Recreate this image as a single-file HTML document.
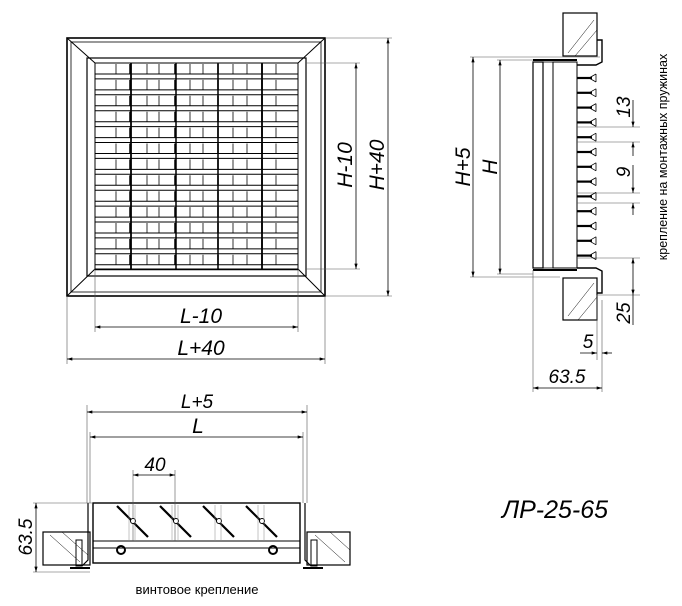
<!DOCTYPE html>
<html><head><meta charset="utf-8"><style>
html,body{margin:0;padding:0;background:#fff;}
svg{display:block}
text{font-family:"Liberation Sans","DejaVu Sans",sans-serif;font-style:italic;fill:#000}
text.n{font-style:normal}
</style></head><body>
<svg id="s" width="682" height="606" viewBox="0 0 682 606" xmlns="http://www.w3.org/2000/svg" stroke="#000" fill="none" stroke-width="1">
<defs>
<marker id="a" viewBox="0 0 10 6" refX="10" refY="3" markerWidth="8" markerHeight="4" orient="auto-start-reverse"><path d="M0,0L10,3L0,6z" fill="#000" stroke="none"/></marker>
</defs>
<g id="front">
<rect x="67" y="38" width="258" height="258" stroke-width="1.6"/>
<rect x="71" y="42" width="250" height="250" stroke-width="0.8"/>
<rect x="87" y="58" width="219" height="218" stroke-width="1.2"/>
<rect x="95" y="63" width="203" height="206" stroke-width="1"/>
<path d="M67,38L95,63M325,38L298,63M67,296L95,269M325,296L298,269" stroke-width="1"/>
</g>
<g stroke-width="0.6" stroke="#555">
<path d="M306,63H360M306,269H360M325,38H392M325,296H392M95,269V332M298,269V332M67,296V364M325,296V364"/>
</g>
<g stroke-width="0.8">
<line x1="356" y1="63" x2="356" y2="269" marker-start="url(#a)" marker-end="url(#a)"/>
<line x1="388" y1="38" x2="388" y2="296" marker-start="url(#a)" marker-end="url(#a)"/>
<line x1="95" y1="327" x2="298" y2="327" marker-start="url(#a)" marker-end="url(#a)"/>
<line x1="67" y1="359" x2="325" y2="359" marker-start="url(#a)" marker-end="url(#a)"/>
</g>
<text x="0" y="0" font-size="21" transform="translate(352,165) rotate(-90)" text-anchor="middle" stroke="none">H-10</text>
<text x="0" y="0" font-size="21" transform="translate(384,165) rotate(-90)" text-anchor="middle" stroke="none">H+40</text>
<text x="201" y="323" font-size="21" text-anchor="middle" stroke="none">L-10</text>
<text x="201" y="355" font-size="21" text-anchor="middle" stroke="none">L+40</text>

<g id="side">
<rect x="563" y="13" width="34" height="43" stroke-width="1.2"/>
<rect x="563" y="278" width="34" height="42" stroke-width="1.2"/>
<path d="M568,53L594,20M575,56L597,30M568,316L594,283M578,320L597,297" stroke-width="0.5"/>
<path d="M597,40h5v22l-6,3h-19M597,293h5v-22l-6,-3h-19" stroke-width="1.4"/>
<rect x="533" y="62" width="10" height="206" stroke-width="1.2"/>
<rect x="543" y="62" width="10" height="206" stroke-width="0.8"/>
<rect x="553" y="62" width="24" height="206" stroke-width="1"/>
<path d="M533,60H577M533,270H577" stroke-width="2"/>
</g>
<g stroke-width="0.6" stroke="#555">
<path d="M470,57H600M497,60H533M470,277H560M497,274H533M577,127H640M577,142H640M577,193H640M577,203H640M577,258H640M597,295H640M597,295V360M533,270V392M602,300V392"/>
</g>
<g stroke-width="0.8">
<line x1="473" y1="57" x2="473" y2="277" marker-start="url(#a)" marker-end="url(#a)"/>
<line x1="500" y1="60" x2="500" y2="274" marker-start="url(#a)" marker-end="url(#a)"/>
<line x1="633" y1="100" x2="633" y2="127" marker-end="url(#a)"/>
<line x1="633" y1="142" x2="633" y2="156" marker-start="url(#a)"/>
<line x1="633" y1="165" x2="633" y2="193" marker-end="url(#a)"/>
<line x1="633" y1="203" x2="633" y2="215" marker-start="url(#a)"/>
<line x1="633" y1="258" x2="633" y2="295" marker-start="url(#a)" marker-end="url(#a)"/>
<line x1="633" y1="295" x2="633" y2="325"/>
<line x1="580" y1="353" x2="597" y2="353" marker-end="url(#a)"/>
<line x1="602" y1="353" x2="612" y2="353" marker-start="url(#a)"/>
<line x1="533" y1="388" x2="602" y2="388" marker-start="url(#a)" marker-end="url(#a)"/>
</g>
<text font-size="21" transform="translate(470,167) rotate(-90)" text-anchor="middle" stroke="none">H+5</text>
<text font-size="21" transform="translate(497,167) rotate(-90)" text-anchor="middle" stroke="none">H</text>
<text font-size="19" transform="translate(630,107) rotate(-90)" text-anchor="middle" stroke="none">13</text>
<text font-size="19" transform="translate(630,172) rotate(-90)" text-anchor="middle" stroke="none">9</text>
<text font-size="19" transform="translate(630,313) rotate(-90)" text-anchor="middle" stroke="none">25</text>
<text x="588" y="348" font-size="19" text-anchor="middle" stroke="none">5</text>
<text x="567" y="383" font-size="19" text-anchor="middle" stroke="none">63.5</text>
<text class="n" font-size="12.5" transform="translate(667,157) rotate(-90)" text-anchor="middle" stroke="none">крепление на монтажных пружинах</text>

<g id="bot">
<rect x="93" y="503" width="207" height="60" stroke-width="1.4"/>
<path d="M93,541H300M93,548H300" stroke-width="1"/>
<path d="M88,503V560l-6,6M305,503V560l6,6" stroke-width="1.2"/>
<rect x="43" y="532" width="47" height="33" stroke-width="1.2"/>
<rect x="307" y="532" width="43" height="33" stroke-width="1.2"/>
<path d="M50,535L80,562M62,532L88,555M315,535L345,562M330,532L350,550" stroke-width="0.5"/>
<rect x="76" y="540" width="6" height="26" stroke-width="1"/>
<rect x="311" y="540" width="6" height="26" stroke-width="1"/>
<path d="M70,568h20M303,568h20" stroke-width="2"/>
<circle cx="121" cy="550" r="4" stroke-width="2"/>
<circle cx="273" cy="550" r="4" stroke-width="2"/>
</g>
<g stroke-width="0.6" stroke="#555">
<path d="M87,405V503M307,405V503M90,432V503M303,432V503M133,470V541M175,470V541M33,503H93M33,572H90"/>
</g>
<g stroke-width="0.8">
<line x1="87" y1="412" x2="307" y2="412" marker-start="url(#a)" marker-end="url(#a)"/>
<line x1="90" y1="437" x2="303" y2="437" marker-start="url(#a)" marker-end="url(#a)"/>
<line x1="133" y1="475" x2="175" y2="475" marker-start="url(#a)" marker-end="url(#a)"/>
<line x1="36" y1="503" x2="36" y2="572" marker-start="url(#a)" marker-end="url(#a)"/>
</g>
<text x="197" y="408" font-size="19" text-anchor="middle" stroke="none">L+5</text>
<text x="198" y="433" font-size="21" text-anchor="middle" stroke="none">L</text>
<text x="155" y="471" font-size="19" text-anchor="middle" stroke="none">40</text>
<text font-size="19" transform="translate(32,537) rotate(-90)" text-anchor="middle" stroke="none">63.5</text>
<text class="n" x="197" y="594" font-size="13" text-anchor="middle" stroke="none">винтовое крепление</text>
<text x="555" y="518" font-size="25" text-anchor="middle" stroke="none">ЛР-25-65</text>
<g id="gen"></g>
</svg>
<script>
var g=document.getElementById('gen'),ns='http://www.w3.org/2000/svg';
function L(x1,y1,x2,y2,w,c){var e=document.createElementNS(ns,'line');e.setAttribute('x1',x1);e.setAttribute('y1',y1);e.setAttribute('x2',x2);e.setAttribute('y2',y2);e.setAttribute('stroke-width',w||1);if(c)e.setAttribute('stroke',c);g.appendChild(e);}
var vx=[116,130,147,159,175,190,203,218,233,247,262,276];
for(var i=0;i<13;i++){var y=63+i*15.9;L(95,y+11,298,y+11,1);L(95,y+15.9,298,y+15.9,1);
 vx.forEach(function(x,j){L(x,y+1,x,y+11,(j%3==1)?1.5:0.8);});}
L(131,63,131,269,1.8);L(176,63,176,269,1.5);L(218,63,218,269,1.5);L(262,63,262,269,1.8);
for(var k=0;k<13;k++){var y=78+k*14.8;L(577,y,592,y,2.2);L(596,y-4,589,y,0.8);L(596,y+4,589,y,0.8);L(596,y-4,596,y+4,0.8);}
[117,160,203,246].forEach(function(x){L(x,506,x+31,537,2.2);var c=document.createElementNS(ns,'circle');c.setAttribute('cx',x+16);c.setAttribute('cy',521);c.setAttribute('r',2.5);c.setAttribute('fill','#fff');c.setAttribute('stroke-width',1);g.appendChild(c);
 L(x+12,505,x+12,541,0.5,'#888');L(x+18,505,x+18,541,0.5,'#888');});
</script>
</body></html>
